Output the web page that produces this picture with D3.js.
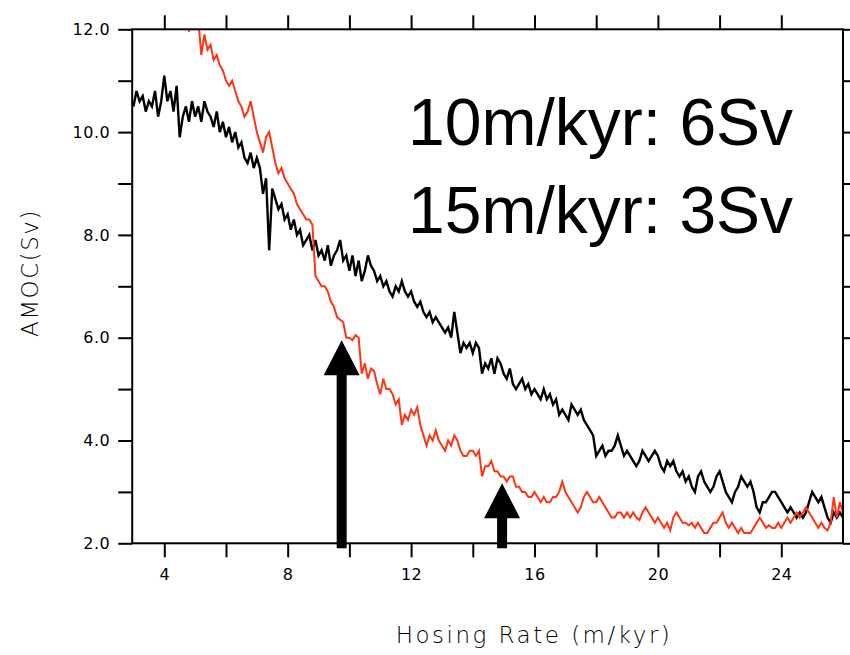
<!DOCTYPE html>
<html><head><meta charset="utf-8">
<script src="https://cdn.jsdelivr.net/npm/d3@7/dist/d3.min.js"></script>
<style>body{margin:0;background:#fff}</style>
</head><body>
<svg id="c" width="850" height="655"></svg>
<script>
// ---- data ----
const rateStep = 0.1;            // hosing-rate sampling (m/kyr)
const blackStart = 3.0;
const blackAMOC = [
 10.5,10.8,10.6,10.7,10.4,10.6,10.5,10.8,10.3,10.6,
 11.1,10.6,10.8,10.4,10.9,9.9,10.3,10.5,10.2,10.6,
 10.3,10.5,10.2,10.6,10.4,10.3,10.1,10.4,10.0,10.2,
 9.9,10.1,9.8,10.0,9.7,9.8,9.5,9.4,9.6,9.3,
 9.5,9.3,8.8,9.1,7.7,8.9,8.7,8.5,8.6,8.3,
 8.4,8.1,8.3,8.0,8.1,7.8,7.9,8.0,7.7,7.9,
 7.6,7.7,7.5,7.8,7.4,7.6,7.7,7.9,7.5,7.6,
 7.3,7.6,7.2,7.5,7.1,7.3,7.6,7.4,7.3,7.1,
 7.2,7.0,7.1,6.9,6.8,7.0,6.9,7.1,6.9,6.8,
 6.9,6.7,6.6,6.7,6.5,6.4,6.5,6.3,6.4,6.3,
 6.2,6.1,6.2,6.0,6.5,6.1,5.7,5.9,5.8,5.9,
 5.7,5.9,5.8,5.3,5.5,5.4,5.6,5.3,5.6,5.5,
 5.3,5.2,5.4,5.1,5.0,5.1,5.2,5.0,5.1,4.9,
 5.0,4.9,4.8,5.0,4.8,4.9,4.7,4.8,4.5,4.6,
 4.5,4.4,4.7,4.6,4.5,4.6,4.4,4.3,4.2,4.1,
 3.7,3.8,3.9,3.7,3.8,3.8,3.9,4.1,3.9,3.7,
 3.8,3.7,3.6,3.5,3.6,3.8,3.7,3.6,3.7,3.8,
 3.7,3.5,3.4,3.6,3.5,3.6,3.4,3.3,3.4,3.2,
 3.3,3.1,3.0,3.3,3.4,3.2,3.1,3.0,3.1,3.3,
 3.4,3.2,3.0,2.9,2.8,3.0,3.1,3.3,3.2,3.1,
 3.2,3.0,2.7,2.6,2.8,2.8,2.9,3.0,3.0,2.9,
 2.8,2.7,2.6,2.7,2.6,2.5,2.6,2.5,2.6,2.8,
 3.0,2.9,2.8,2.9,2.7,2.5,2.4,2.6,2.5,2.6,
 2.5
];
const redStart = 4.8;
const redAMOC = [
 11.95,12.3,
 12.4,12.2,11.5,11.9,11.6,11.7,11.4,11.5,11.3,11.2,
 11.0,10.9,11.0,10.8,10.6,10.5,10.3,10.4,10.6,10.3,
 10.0,9.8,9.6,9.9,10.0,9.7,9.4,9.2,9.3,9.1,
 9.0,8.9,8.8,8.6,8.5,8.4,8.3,8.3,8.2,7.2,
 7.1,7.0,7.0,6.9,6.7,6.6,6.4,6.35,6.3,6.0,
 6.0,5.95,6.05,6.0,5.3,5.5,5.2,5.4,5.35,5.1,
 4.9,5.2,5.0,5.0,4.9,4.7,4.8,4.3,4.5,4.4,
 4.6,4.5,4.65,4.3,4.1,3.9,4.1,4.0,4.2,4.0,
 3.9,3.8,4.0,3.9,4.1,4.0,3.8,3.7,3.7,3.8,
 3.8,3.7,3.8,3.3,3.5,3.5,3.6,3.4,3.4,3.3,
 3.3,3.2,3.3,3.3,3.1,3.1,3.0,3.0,2.9,2.9,
 3.0,2.9,2.8,2.9,2.8,2.8,2.9,2.9,3.0,3.2,
 3.0,2.9,2.8,2.7,2.6,2.7,2.9,3.0,2.9,2.8,
 2.8,2.9,2.8,2.7,2.6,2.5,2.5,2.6,2.6,2.5,
 2.6,2.5,2.6,2.5,2.45,2.6,2.7,2.6,2.5,2.4,
 2.5,2.4,2.3,2.4,2.25,2.5,2.6,2.5,2.4,2.4,
 2.35,2.4,2.3,2.4,2.3,2.2,2.2,2.3,2.4,2.4,
 2.5,2.6,2.4,2.3,2.4,2.3,2.2,2.3,2.2,2.2,
 2.2,2.3,2.4,2.5,2.4,2.3,2.35,2.3,2.3,2.4,
 2.3,2.4,2.5,2.4,2.5,2.6,2.5,2.6,2.7,2.6,
 2.5,2.4,2.3,2.4,2.3,2.25,2.4,2.9,2.5,2.8,
 2.6
];
const xTickLabels = [4, 8, 12, 16, 20, 24];
const xMinorTicks = [4, 6, 8, 10, 12, 14, 16, 18, 20, 22, 24];
const yTickLabels = [2, 4, 6, 8, 10, 12];
const yMinorTicks = [2, 3, 4, 5, 6, 7, 8, 9, 10, 11, 12];
const arrowRates = [9.75, 14.95];
const arrowTips = [5.95, 3.17];
const annotations = ["10m/kyr: 6Sv", "15m/kyr: 3Sv"];
const xTitle = "Hosing Rate (m/kyr)";
const yTitle = "AMOC(Sv)";

// ---- drawing ----
const svg = d3.select("#c");
svg.append("rect").attr("width", 850).attr("height", 655).attr("fill", "#fff");
const L = 132.2, R = 843, T = 29.3, B = 543.3;
const x = d3.scaleLinear().domain([2.96, 26]).range([L, R]);
const y = d3.scaleLinear().domain([2, 12]).range([B, T]);

svg.append("clipPath").attr("id", "clip").append("rect")
  .attr("x", L).attr("y", T).attr("width", R - L).attr("height", B - T);

const line = d3.line().x(d => x(d[0])).y(d => y(d[1]));
const blackData = blackAMOC.map((v, i) => [blackStart + i * rateStep, v]);
const redData = redAMOC.map((v, i) => [redStart + i * rateStep, v]);

const g = svg.append("g").attr("clip-path", "url(#clip)");
g.append("path").datum(blackData).attr("d", line)
  .attr("fill", "none").attr("stroke", "#000").attr("stroke-width", 2.4);
g.append("path").datum(redData).attr("d", line)
  .attr("fill", "none").attr("stroke", "#ff3414").attr("stroke-width", 2);

// axes (outward ticks on all four sides)
const tickLen = 14;
const axB = d3.axisBottom(x).tickValues(xMinorTicks).tickSize(tickLen)
  .tickFormat(d => xTickLabels.includes(d) ? d : "");
const axT = d3.axisTop(x).tickValues(xMinorTicks).tickSize(tickLen).tickFormat("");
const axL = d3.axisLeft(y).tickValues(yMinorTicks).tickSize(tickLen)
  .tickFormat(d => yTickLabels.includes(d) ? d3.format(".1f")(d) : "");
const axR = d3.axisRight(y).tickValues(yMinorTicks).tickSize(tickLen).tickFormat("");

function style(sel) {
  sel.selectAll(".domain").remove();
  sel.selectAll("line").attr("stroke", "#000").attr("stroke-width", 2);
  sel.selectAll("text").attr("fill", "#000")
    .style("font-family", "'DejaVu Sans', sans-serif").style("font-size", "16px")
    .style("letter-spacing", "0.5px");
}
svg.append("g").attr("transform", `translate(0,${B})`).call(axB).call(style)
  .selectAll("text").attr("dy", "0.35em").attr("y", 31);
svg.append("g").attr("transform", `translate(0,${T})`).call(axT).call(style);
svg.append("g").attr("transform", `translate(${L},0)`).call(axL).call(style)
  .selectAll("text").attr("x", -22);
svg.append("g").attr("transform", `translate(${R},0)`).call(axR).call(style);

svg.append("rect").attr("x", L).attr("y", T).attr("width", R - L).attr("height", B - T)
  .attr("fill", "none").attr("stroke", "#000").attr("stroke-width", 2);

// arrows
arrowRates.forEach((r, i) => {
  const cx = x(r), tip = y(arrowTips[i]), base = B + 5;
  const hw = 18, hh = 35, sw = 5;
  const pts = [[cx, tip], [cx + hw, tip + hh], [cx + sw, tip + hh], [cx + sw, base],
               [cx - sw, base], [cx - sw, tip + hh], [cx - hw, tip + hh]];
  svg.append("path").attr("d", "M" + pts.map(p => p.join(",")).join("L") + "Z")
    .attr("fill", "#000");
});

// annotations
const annY = [145, 233];
annotations.forEach((t, i) => {
  svg.append("text").attr("x", 408).attr("y", annY[i]).text(t)
    .style("font-family", "'Liberation Sans', Arial, sans-serif")
    .style("font-size", "66px").attr("fill", "#000");
});

// titles
svg.append("text").attr("x", 534).attr("y", 643).attr("text-anchor", "middle")
  .text(xTitle).style("font-family", "'DejaVu Sans', sans-serif")
  .style("font-size", "23px").style("font-weight", 200).style("letter-spacing", "2.5px");
svg.append("text").attr("transform", "translate(38,273) rotate(-90)")
  .attr("text-anchor", "middle").text(yTitle)
  .style("font-family", "'DejaVu Sans', sans-serif")
  .style("font-size", "23px").style("font-weight", 200).style("letter-spacing", "1.5px");
</script>
</body></html>
